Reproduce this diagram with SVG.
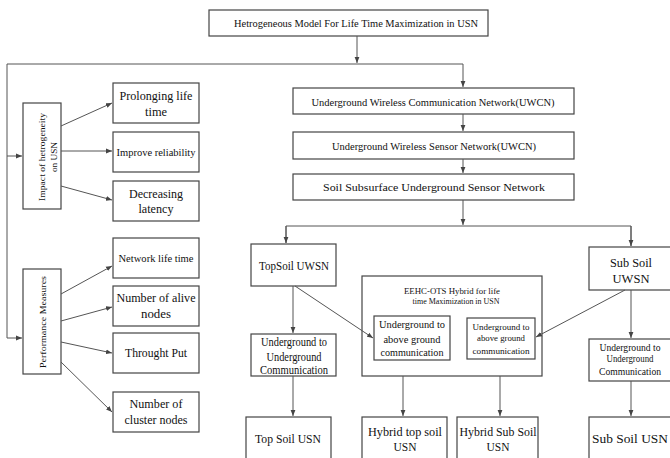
<svg xmlns="http://www.w3.org/2000/svg" width="670" height="458" viewBox="0 0 670 458">
<defs>
<marker id="ah" markerUnits="userSpaceOnUse" markerWidth="6" markerHeight="6" viewBox="0 0 6 6" refX="6" refY="3" orient="auto">
<path d="M0,0.6 L6,3 L0,5.4 Z" fill="#444"/>
</marker>
<style>
rect{fill:#fff;stroke:#444;stroke-width:1.2}
text{fill:#111;text-anchor:middle}
.c line,.c polyline{stroke:#555;stroke-width:1;fill:none}
.a{marker-end:url(#ah)}
</style>
</defs>
<g font-family="Liberation Serif" id="nodes">
<g id="title"><rect x="209" y="10" width="279" height="26"/><text x="356" y="26.5" font-size="10" textLength="244" lengthAdjust="spacingAndGlyphs">Hetrogeneous Model For Life Time Maximization in USN</text></g>
<g id="uwcn"><rect x="293" y="88" width="281" height="26"/><text x="433" y="105.5" font-size="10" textLength="243" lengthAdjust="spacingAndGlyphs">Underground Wireless Communication Network(UWCN)</text></g>
<g id="uwsn"><rect x="293" y="132" width="281" height="27"/><text x="434" y="149.5" font-size="10" textLength="204" lengthAdjust="spacingAndGlyphs">Underground Wireless Sensor Network(UWCN)</text></g>
<g id="soil"><rect x="293" y="174" width="281" height="26"/><text x="434" y="191" font-size="11" textLength="222" lengthAdjust="spacingAndGlyphs">Soil  Subsurface Underground Sensor Network</text></g>
<g id="impact"><rect x="23" y="103" width="38" height="106"/><text transform="translate(45,157) rotate(-90)" font-size="9" textLength="88" lengthAdjust="spacingAndGlyphs">Impact of hetrogeneity</text><text transform="translate(57,157) rotate(-90)" font-size="9" textLength="30" lengthAdjust="spacingAndGlyphs">on USN</text></g>
<g id="perf"><rect x="23" y="269" width="38" height="105"/><text transform="translate(46,322) rotate(-90)" font-size="8.5" textLength="92" lengthAdjust="spacingAndGlyphs">Performance Measures</text></g>
<g id="prolong"><rect x="113" y="83" width="86" height="40"/><text x="156" y="100" font-size="12" textLength="73" lengthAdjust="spacingAndGlyphs">Prolonging life</text><text x="156" y="116" font-size="12" textLength="22" lengthAdjust="spacingAndGlyphs">time</text></g>
<g id="reliab"><rect x="113" y="132" width="86" height="40"/><text x="156" y="155.5" font-size="10.5" textLength="79" lengthAdjust="spacingAndGlyphs">Improve reliability</text></g>
<g id="latency"><rect x="113" y="181" width="86" height="40"/><text x="156" y="198" font-size="12" textLength="54" lengthAdjust="spacingAndGlyphs">Decreasing</text><text x="156" y="213" font-size="12" textLength="35" lengthAdjust="spacingAndGlyphs">latency</text></g>
<g id="netlife"><rect x="113" y="238" width="86" height="40"/><text x="156" y="261.5" font-size="10" textLength="75" lengthAdjust="spacingAndGlyphs">Network life time</text></g>
<g id="alive"><rect x="113" y="286" width="86" height="40"/><text x="156" y="302" font-size="12" textLength="79" lengthAdjust="spacingAndGlyphs">Number of alive</text><text x="156" y="318" font-size="12" textLength="30" lengthAdjust="spacingAndGlyphs">nodes</text></g>
<g id="throughput"><rect x="113" y="333" width="86" height="40"/><text x="156" y="357" font-size="12" textLength="62" lengthAdjust="spacingAndGlyphs">Throught Put</text></g>
<g id="cluster"><rect x="113" y="392" width="86" height="40"/><text x="156" y="408" font-size="12" textLength="53" lengthAdjust="spacingAndGlyphs">Number of</text><text x="156" y="424" font-size="12" textLength="63" lengthAdjust="spacingAndGlyphs">cluster nodes</text></g>
<g id="topsoil"><rect x="251" y="244" width="85" height="42"/><text x="294" y="270" font-size="12" textLength="70" lengthAdjust="spacingAndGlyphs">TopSoil UWSN</text></g>
<g id="subsoil"><rect x="589" y="247" width="86" height="43"/><text x="631" y="267" font-size="12" textLength="42" lengthAdjust="spacingAndGlyphs">Sub Soil</text><text x="631" y="283" font-size="12" textLength="37" lengthAdjust="spacingAndGlyphs">UWSN</text></g>
<g id="hybrid"><rect x="362" y="276" width="180" height="100"/><text x="452" y="294" font-size="9" textLength="96" lengthAdjust="spacingAndGlyphs">EEHC-OTS  Hybrid for life</text><text x="456" y="304" font-size="9" textLength="87" lengthAdjust="spacingAndGlyphs">time Maximization in USN</text></g>
<g id="inner1"><rect x="374" y="316" width="76" height="44"/><text x="412" y="327.5" font-size="10.5" textLength="66" lengthAdjust="spacingAndGlyphs">Underground to</text><text x="412" y="342.5" font-size="10.5" textLength="57" lengthAdjust="spacingAndGlyphs">above ground</text><text x="412" y="355.5" font-size="10.5" textLength="63" lengthAdjust="spacingAndGlyphs">communication</text></g>
<g id="inner2"><rect x="467" y="318" width="68" height="41"/><text x="501" y="330" font-size="9" textLength="57" lengthAdjust="spacingAndGlyphs">Underground to</text><text x="501" y="341" font-size="9" textLength="48" lengthAdjust="spacingAndGlyphs">above ground</text><text x="501" y="354" font-size="9" textLength="57" lengthAdjust="spacingAndGlyphs">communication</text></g>
<g id="u2u-top"><rect x="251" y="334" width="85" height="42"/><text x="294" y="346" font-size="11.5" textLength="66" lengthAdjust="spacingAndGlyphs">Underground to</text><text x="294" y="361" font-size="11.5" textLength="55" lengthAdjust="spacingAndGlyphs">Underground</text><text x="294" y="374" font-size="11.5" textLength="68" lengthAdjust="spacingAndGlyphs">Communication</text></g>
<g id="u2u-sub"><rect x="589" y="339" width="86" height="42"/><text x="630" y="351" font-size="9.5" textLength="61" lengthAdjust="spacingAndGlyphs">Underground to</text><text x="630" y="362" font-size="9.5" textLength="47" lengthAdjust="spacingAndGlyphs">Underground</text><text x="630" y="375" font-size="9.5" textLength="62" lengthAdjust="spacingAndGlyphs">Communication</text></g>
<g id="topsoilusn"><rect x="246" y="417" width="85" height="50"/><text x="288" y="442.5" font-size="12.5" textLength="66" lengthAdjust="spacingAndGlyphs">Top Soil USN</text></g>
<g id="hybridtop"><rect x="362" y="417" width="85" height="50"/><text x="405" y="436" font-size="12.5" textLength="74" lengthAdjust="spacingAndGlyphs">Hybrid top soil</text><text x="405" y="450.5" font-size="12.5" textLength="23" lengthAdjust="spacingAndGlyphs">USN</text></g>
<g id="hybridsub"><rect x="457" y="417" width="81" height="50"/><text x="498" y="436" font-size="12.5" textLength="77" lengthAdjust="spacingAndGlyphs">Hybrid Sub Soil</text><text x="498" y="450.5" font-size="12.5" textLength="23" lengthAdjust="spacingAndGlyphs">USN</text></g>
<g id="subsoilusn"><rect x="589" y="417" width="86" height="50"/><text x="630" y="442.5" font-size="12.5" textLength="76" lengthAdjust="spacingAndGlyphs">Sub Soil USN</text></g>
</g>
<g class="c" id="connectors">
<line class="a" x1="357" y1="36" x2="357" y2="63"/>
<polyline points="7,338 7,64 463,64"/>
<line class="a" x1="463" y1="64" x2="463" y2="87"/>
<line class="a" x1="463" y1="114" x2="463" y2="131"/>
<line class="a" x1="463" y1="159" x2="463" y2="173"/>
<line class="a" x1="463" y1="200" x2="463" y2="225"/>
<polyline points="286,243 286,226 631,226 631,246"/>
<line class="a" x1="286" y1="226" x2="286" y2="243"/>
<line class="a" x1="631" y1="226" x2="631" y2="246"/>
<line class="a" x1="7" y1="156" x2="22" y2="156"/>
<line class="a" x1="7" y1="338" x2="22" y2="338"/>
<line class="a" x1="61" y1="126" x2="112" y2="103"/>
<line class="a" x1="61" y1="151" x2="112" y2="151"/>
<line class="a" x1="61" y1="186" x2="112" y2="200"/>
<line class="a" x1="61" y1="294" x2="112" y2="266"/>
<line class="a" x1="61" y1="321" x2="112" y2="307"/>
<line class="a" x1="61" y1="342" x2="112" y2="353"/>
<line class="a" x1="61" y1="362" x2="112" y2="412"/>
<line class="a" x1="293" y1="286" x2="293" y2="333"/>
<line class="a" x1="295" y1="286" x2="373" y2="338"/>
<line class="a" x1="625" y1="290" x2="536" y2="337"/>
<line class="a" x1="631" y1="290" x2="631" y2="338"/>
<line class="a" x1="293" y1="376" x2="293" y2="416"/>
<line class="a" x1="403" y1="376" x2="403" y2="416"/>
<line class="a" x1="500" y1="376" x2="500" y2="416"/>
<line class="a" x1="631" y1="381" x2="631" y2="416"/>
</g>
</svg>
